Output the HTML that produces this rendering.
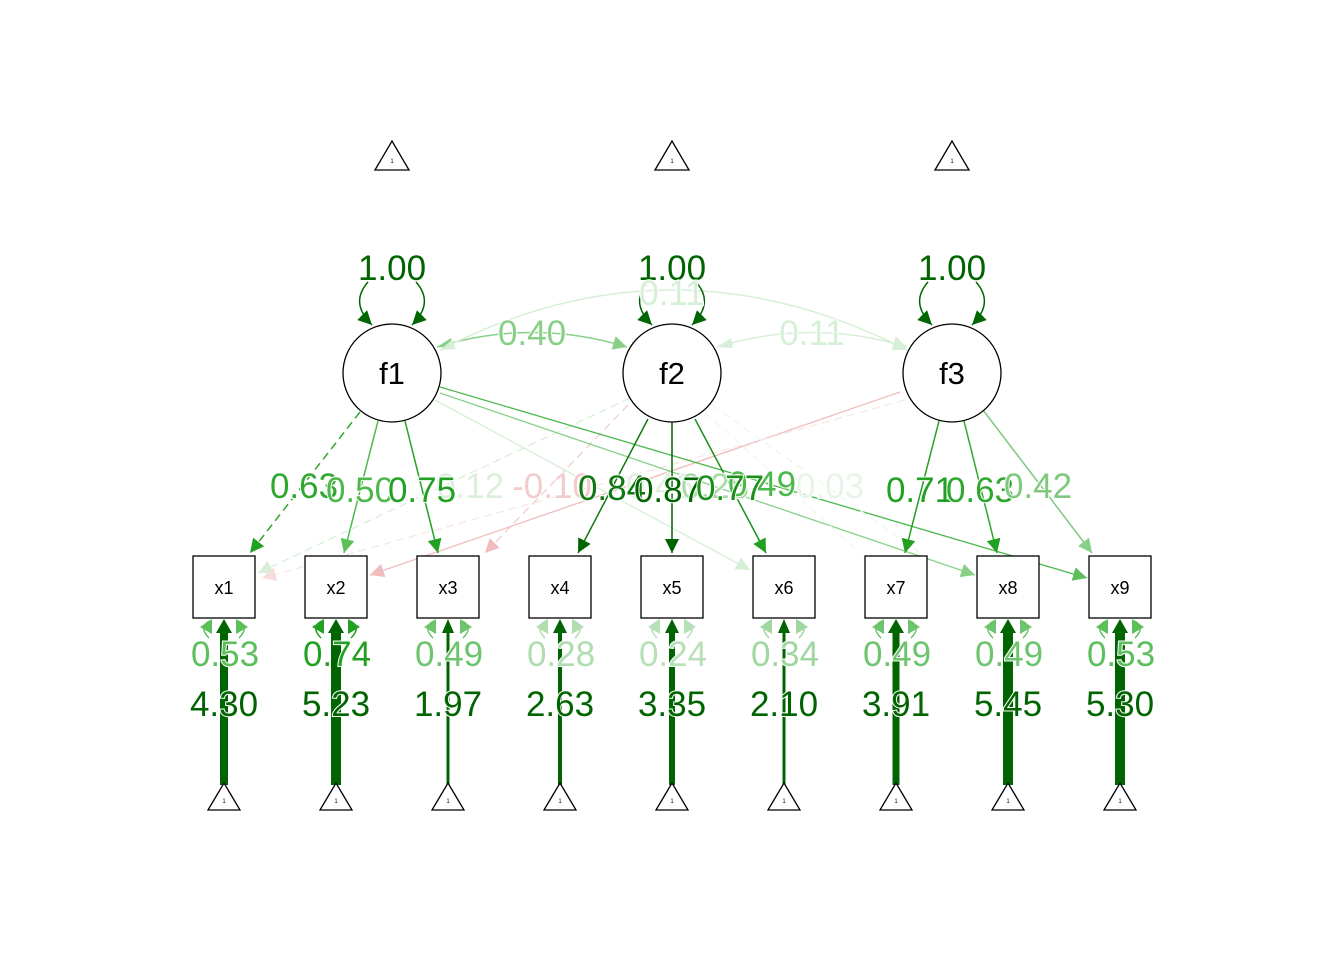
<!DOCTYPE html>
<html><head><meta charset="utf-8"><style>
html,body{margin:0;padding:0;background:#fff;}
svg text{font-family:"Liberation Sans",Arial,sans-serif;}
.lb{font-size:35px;text-anchor:middle;paint-order:stroke;stroke:#fff;stroke-width:2px;}
</style></head><body>
<svg width="1344" height="960" viewBox="0 0 1344 960" xmlns="http://www.w3.org/2000/svg">
<defs>
<marker id="mD" viewBox="0 0 10 10" refX="10" refY="5" markerWidth="14" markerHeight="14" markerUnits="userSpaceOnUse" orient="auto"><path d="M0,0L10,5L0,10z" fill="#006400"/></marker>
<marker id="mG" viewBox="0 0 10 10" refX="10" refY="5" markerWidth="14" markerHeight="14" markerUnits="userSpaceOnUse" orient="auto"><path d="M0,0L10,5L0,10z" fill="#22a022"/></marker>
<marker id="mL" viewBox="0 0 10 10" refX="10" refY="5" markerWidth="14" markerHeight="14" markerUnits="userSpaceOnUse" orient="auto"><path d="M0,0L10,5L0,10z" fill="#5cbf5c"/></marker>
<marker id="mP" viewBox="0 0 10 10" refX="10" refY="5" markerWidth="14" markerHeight="14" markerUnits="userSpaceOnUse" orient="auto"><path d="M0,0L10,5L0,10z" fill="#88d088"/></marker>
<marker id="mV" viewBox="0 0 10 10" refX="10" refY="5" markerWidth="14" markerHeight="14" markerUnits="userSpaceOnUse" orient="auto"><path d="M0,0L10,5L0,10z" fill="#d6efd6"/></marker>
<marker id="mR" viewBox="0 0 10 10" refX="10" refY="5" markerWidth="14" markerHeight="14" markerUnits="userSpaceOnUse" orient="auto"><path d="M0,0L10,5L0,10z" fill="#f2bcbc"/></marker>
<marker id="mRv" viewBox="0 0 10 10" refX="10" refY="5" markerWidth="14" markerHeight="14" markerUnits="userSpaceOnUse" orient="auto"><path d="M0,0L10,5L0,10z" fill="#f8dcdc"/></marker>
</defs>

<g fill="#fff" stroke="#000" stroke-width="1.3">
<polygon points="375,170 392,141 409,170"/>
<polygon points="655,170 672,141 689,170"/>
<polygon points="935,170 952,141 969,170"/>
</g>
<g font-size="6" text-anchor="middle"><text x="392" y="163">1</text><text x="672" y="163">1</text><text x="952" y="163">1</text></g>

<g fill="none" stroke-width="1.3">
<line x1="630" y1="398" x2="258" y2="573" stroke="#d6efd6" stroke-dasharray="8,5" marker-end="url(#mV)"/>
<line x1="628" y1="405" x2="485" y2="553" stroke="#f2cccc" stroke-dasharray="8,5" marker-end="url(#mR)"/>
<line x1="900" y1="392" x2="370" y2="575" stroke="#f2bcbc" marker-end="url(#mR)"/>
<line x1="905" y1="400" x2="262" y2="578" stroke="#f8e6e6" stroke-dasharray="8,5" marker-end="url(#mRv)"/>
<line x1="435" y1="400" x2="750" y2="570" stroke="#d6efd6" marker-end="url(#mV)"/>
<line x1="440" y1="393" x2="975" y2="575" stroke="#88d088" marker-end="url(#mP)"/>
<line x1="440" y1="387" x2="1087" y2="578" stroke="#4cb84c" marker-end="url(#mL)"/>
<line x1="705" y1="412" x2="860" y2="553" stroke="#eef6ee" stroke-dasharray="8,5"/>
<line x1="712" y1="405" x2="920" y2="553" stroke="#eef6ee" stroke-dasharray="8,5"/>
</g>

<g fill="none" stroke-width="1.5">
<line x1="360" y1="412" x2="250" y2="553" stroke="#2ea82e" stroke-dasharray="8,5" marker-end="url(#mG)"/>
<line x1="378" y1="421" x2="344" y2="553" stroke="#4cb84c" marker-end="url(#mL)"/>
<line x1="405" y1="421" x2="438" y2="553" stroke="#22a022" marker-end="url(#mG)"/>
<line x1="648" y1="419" x2="578" y2="553" stroke="#107810" marker-end="url(#mD)"/>
<line x1="672" y1="422" x2="672" y2="553" stroke="#006400" marker-end="url(#mD)"/>
<line x1="695" y1="419" x2="766" y2="553" stroke="#1a901a" marker-end="url(#mG)"/>
<line x1="939" y1="421" x2="905" y2="553" stroke="#22a022" marker-end="url(#mG)"/>
<line x1="964" y1="421" x2="997" y2="553" stroke="#2ea82e" marker-end="url(#mG)"/>
<line x1="983" y1="410" x2="1092" y2="553" stroke="#80c880" marker-end="url(#mP)"/>
</g>

<g fill="none" stroke-width="1.5">
<path d="M437,347 Q532,318 627,347" stroke="#88d088" marker-end="url(#mP)"/>
<path d="M717,347 Q812,318 907,347" stroke="#d6efd6" marker-end="url(#mV)"/>
<path d="M440,350 Q672,230 907,350" stroke="#d6efd6" marker-end="url(#mV)"/>
<path d="M437,347 l14,-9 l2,10 z" fill="#88d088" stroke="none"/>
<path d="M717,347 l14,-9 l2,10 z" fill="#d6efd6" stroke="none"/>
<path d="M440,350 l12,-10 l4,9 z" fill="#d6efd6" stroke="none"/>
</g>

<g fill="none" stroke="#006400" stroke-width="1.5">
<path d="M368,282 C352,300 362,315 372,325" marker-end="url(#mD)"/>
<path d="M416,282 C432,300 422,315 412,325" marker-end="url(#mD)"/>
<path d="M648,282 C632,300 642,315 652,325" marker-end="url(#mD)"/>
<path d="M696,282 C712,300 702,315 692,325" marker-end="url(#mD)"/>
<path d="M928,282 C912,300 922,315 932,325" marker-end="url(#mD)"/>
<path d="M976,282 C992,300 982,315 972,325" marker-end="url(#mD)"/>
</g>

<g fill="#fff" stroke="#000" stroke-width="1.3">
<circle cx="392" cy="373" r="49"/><circle cx="672" cy="373" r="49"/><circle cx="952" cy="373" r="49"/>
</g>
<g font-size="31" text-anchor="middle"><text x="392" y="384">f1</text><text x="672" y="384">f2</text><text x="952" y="384">f3</text></g>

<text class="lb" x="392" y="280" fill="#006400">1.00</text>
<text class="lb" x="672" y="280" fill="#006400">1.00</text>
<text class="lb" x="952" y="280" fill="#006400">1.00</text>
<text class="lb" x="672" y="305" fill="#d6efd6">0.11</text>
<text class="lb" x="532" y="345" fill="#88d088">0.40</text>
<text class="lb" x="812" y="345" fill="#d6efd6">0.11</text>

<text class="lb" x="470" y="498" fill="#dcefdc">0.12</text>
<text class="lb" x="552" y="498" fill="#f2cccc">-0.10</text>
<text class="lb" x="660" y="498" fill="#e0f0e0">0.46</text>
<text class="lb" x="830" y="498" fill="#e8f4e8">0.03</text>
<text class="lb" x="715" y="498" fill="#a8daa8">0.28</text>
<text class="lb" x="762" y="496" fill="#4cb84c">0.49</text>
<text class="lb" x="304" y="498" fill="#2ea82e">0.63</text>
<text class="lb" x="360" y="502" fill="#4cb84c">0.50</text>
<text class="lb" x="422" y="502" fill="#22a022">0.75</text>
<text class="lb" x="612" y="500" fill="#107810">0.84</text>
<text class="lb" x="668" y="502" fill="#006400">0.87</text>
<text class="lb" x="730" y="500" fill="#1a901a">0.77</text>
<text class="lb" x="920" y="502" fill="#22a022">0.71</text>
<text class="lb" x="980" y="502" fill="#2ea82e">0.63</text>
<text class="lb" x="1038" y="498" fill="#80c880">0.42</text>

<g stroke="#006400" fill="none">
<line x1="224" y1="785" x2="224" y2="632" stroke-width="8"/>
<line x1="336" y1="785" x2="336" y2="632" stroke-width="10"/>
<line x1="448" y1="785" x2="448" y2="632" stroke-width="3"/>
<line x1="560" y1="785" x2="560" y2="632" stroke-width="4"/>
<line x1="672" y1="785" x2="672" y2="632" stroke-width="6"/>
<line x1="784" y1="785" x2="784" y2="632" stroke-width="3"/>
<line x1="896" y1="785" x2="896" y2="632" stroke-width="7"/>
<line x1="1008" y1="785" x2="1008" y2="632" stroke-width="10"/>
<line x1="1120" y1="785" x2="1120" y2="632" stroke-width="10"/>
</g>
<g fill="#006400">
<polygon points="216,633 224,619 232,633"/><polygon points="328,633 336,619 344,633"/><polygon points="442,633 448,619 454,633"/>
<polygon points="553,633 560,619 567,633"/><polygon points="665,633 672,619 679,633"/><polygon points="778,633 784,619 790,633"/>
<polygon points="888,633 896,619 904,633"/><polygon points="1000,633 1008,619 1016,633"/><polygon points="1112,633 1120,619 1128,633"/>
</g>
<g fill="none" stroke-width="1.5">
<g stroke="#5cbf5c"><path d="M209,638 C201,630 203,624 210,621"/><path d="M239,638 C247,630 245,624 238,621"/></g>
<g stroke="#22a022"><path d="M321,638 C313,630 315,624 322,621"/><path d="M351,638 C359,630 357,624 350,621"/></g>
<g stroke="#6ec46e"><path d="M433,638 C425,630 427,624 434,621"/><path d="M463,638 C471,630 469,624 462,621"/></g>
<g stroke="#b0dcb0"><path d="M545,638 C537,630 539,624 546,621"/><path d="M575,638 C583,630 581,624 574,621"/></g>
<g stroke="#b8e0b8"><path d="M657,638 C649,630 651,624 658,621"/><path d="M687,638 C695,630 693,624 686,621"/></g>
<g stroke="#a0d6a0"><path d="M769,638 C761,630 763,624 770,621"/><path d="M799,638 C807,630 805,624 798,621"/></g>
<g stroke="#6ec46e"><path d="M881,638 C873,630 875,624 882,621"/><path d="M911,638 C919,630 917,624 910,621"/></g>
<g stroke="#6ec46e"><path d="M993,638 C985,630 987,624 994,621"/><path d="M1023,638 C1031,630 1029,624 1022,621"/></g>
<g stroke="#5cbf5c"><path d="M1105,638 C1097,630 1099,624 1106,621"/><path d="M1135,638 C1143,630 1141,624 1134,621"/></g>
</g>
<g>
<polygon fill="#5cbf5c" points="200,627 212,619 212,634"/><polygon fill="#5cbf5c" points="248,627 236,619 236,634"/>
<polygon fill="#22a022" points="312,627 324,619 324,634"/><polygon fill="#22a022" points="360,627 348,619 348,634"/>
<polygon fill="#6ec46e" points="424,627 436,619 436,634"/><polygon fill="#6ec46e" points="472,627 460,619 460,634"/>
<polygon fill="#b0dcb0" points="536,627 548,619 548,634"/><polygon fill="#b0dcb0" points="584,627 572,619 572,634"/>
<polygon fill="#b8e0b8" points="648,627 660,619 660,634"/><polygon fill="#b8e0b8" points="696,627 684,619 684,634"/>
<polygon fill="#a0d6a0" points="760,627 772,619 772,634"/><polygon fill="#a0d6a0" points="808,627 796,619 796,634"/>
<polygon fill="#6ec46e" points="872,627 884,619 884,634"/><polygon fill="#6ec46e" points="920,627 908,619 908,634"/>
<polygon fill="#6ec46e" points="984,627 996,619 996,634"/><polygon fill="#6ec46e" points="1032,627 1020,619 1020,634"/>
<polygon fill="#5cbf5c" points="1096,627 1108,619 1108,634"/><polygon fill="#5cbf5c" points="1144,627 1132,619 1132,634"/>
</g>

<g fill="#fff" stroke="#000" stroke-width="1.3">
<rect x="193" y="556" width="62" height="62"/><rect x="305" y="556" width="62" height="62"/><rect x="417" y="556" width="62" height="62"/>
<rect x="529" y="556" width="62" height="62"/><rect x="641" y="556" width="62" height="62"/><rect x="753" y="556" width="62" height="62"/>
<rect x="865" y="556" width="62" height="62"/><rect x="977" y="556" width="62" height="62"/><rect x="1089" y="556" width="62" height="62"/>
</g>
<g font-size="18" text-anchor="middle">
<text x="224" y="594">x1</text><text x="336" y="594">x2</text><text x="448" y="594">x3</text><text x="560" y="594">x4</text><text x="672" y="594">x5</text><text x="784" y="594">x6</text><text x="896" y="594">x7</text><text x="1008" y="594">x8</text><text x="1120" y="594">x9</text>
</g>

<text class="lb" x="225" y="666" fill="#5cbf5c">0.53</text>
<text class="lb" x="337" y="666" fill="#22a022">0.74</text>
<text class="lb" x="449" y="666" fill="#6ec46e">0.49</text>
<text class="lb" x="561" y="666" fill="#b0dcb0">0.28</text>
<text class="lb" x="673" y="666" fill="#b8e0b8">0.24</text>
<text class="lb" x="785" y="666" fill="#a0d6a0">0.34</text>
<text class="lb" x="897" y="666" fill="#6ec46e">0.49</text>
<text class="lb" x="1009" y="666" fill="#6ec46e">0.49</text>
<text class="lb" x="1121" y="666" fill="#5cbf5c">0.53</text>
<g fill="#006400">
<text class="lb" x="224" y="716">4.30</text><text class="lb" x="336" y="716">5.23</text><text class="lb" x="448" y="716">1.97</text>
<text class="lb" x="560" y="716">2.63</text><text class="lb" x="672" y="716">3.35</text><text class="lb" x="784" y="716">2.10</text>
<text class="lb" x="896" y="716">3.91</text><text class="lb" x="1008" y="716">5.45</text><text class="lb" x="1120" y="716">5.30</text>
</g>

<g fill="#fff" stroke="#000" stroke-width="1.3">
<polygon points="208,810 224,783 240,810"/><polygon points="320,810 336,783 352,810"/><polygon points="432,810 448,783 464,810"/>
<polygon points="544,810 560,783 576,810"/><polygon points="656,810 672,783 688,810"/><polygon points="768,810 784,783 800,810"/>
<polygon points="880,810 896,783 912,810"/><polygon points="992,810 1008,783 1024,810"/><polygon points="1104,810 1120,783 1136,810"/>
</g>
<g font-size="6" text-anchor="middle">
<text x="224" y="803">1</text><text x="336" y="803">1</text><text x="448" y="803">1</text><text x="560" y="803">1</text><text x="672" y="803">1</text><text x="784" y="803">1</text><text x="896" y="803">1</text><text x="1008" y="803">1</text><text x="1120" y="803">1</text>
</g>
</svg>
</body></html>
